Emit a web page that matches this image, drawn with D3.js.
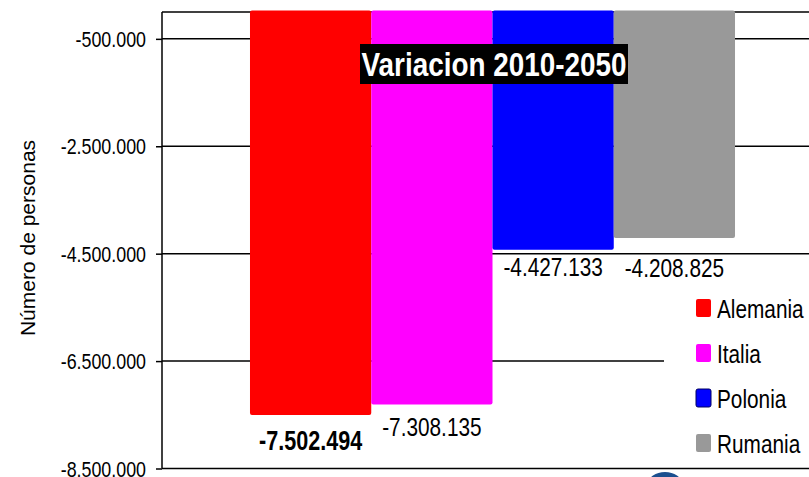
<!DOCTYPE html>
<html>
<head>
<meta charset="utf-8">
<script src="https://cdn.jsdelivr.net/npm/d3@7"></script>
<style>
  html, body { margin: 0; padding: 0; background: #fff; }
  svg { display: block; }
  text { font-family: "Liberation Sans", Arial, sans-serif; }
</style>
</head>
<body>
<svg id="chart" width="809" height="477"></svg>
<script>
// ---- data ----
const countries = ["Alemania", "Italia", "Polonia", "Rumania"];
const values = [-7502494, -7308135, -4427133, -4208825];
const colors = ["#ff0000", "#ff00ff", "#0000ff", "#999999"];
const tickValues = [-500000, -2500000, -4500000, -6500000, -8500000];
const groupName = ["2010-2050"];
const titleText = "Variacion 2010-2050";
const yTitle = "Número de personas";

// ---- layout ----
const plot = { left: 162, right: 823, top: 12, bottom: 468.5 };
const svg = d3.select("#chart");

const loc = d3.formatLocale({ decimal: ",", thousands: ".", grouping: [3], currency: ["", ""], minus: "-" });
const fmt = loc.format(",");

const y = d3.scaleLinear().domain([0, -8500000]).range([plot.top, plot.bottom]);
const xg = d3.scaleBand().domain(groupName).range([plot.left, plot.right]).paddingInner(0).paddingOuter(0.1814);
const xs = d3.scaleBand().domain(countries).range([0, xg.bandwidth()]).padding(0);

// gridlines
svg.append("g").selectAll("line").data(tickValues).join("line")
  .attr("x1", plot.left).attr("x2", plot.right)
  .attr("y1", d => y(d)).attr("y2", d => y(d))
  .attr("stroke", "#000").attr("stroke-width", 1.5);
// top border line
svg.append("line").attr("x1", plot.left).attr("x2", plot.right)
  .attr("y1", y(0)).attr("y2", y(0)).attr("stroke", "#000").attr("stroke-width", 1.5);

// bars
const bars = svg.append("g").attr("transform", `translate(${xg(groupName[0])},0)`);
bars.selectAll("rect").data(countries).join("rect")
  .attr("x", d => xs(d))
  .attr("y", y(0) - 1.5)
  .attr("width", xs.bandwidth())
  .attr("height", (d, i) => y(values[i]) - y(0) + 1.5)
  .attr("rx", 2)
  .attr("fill", (d, i) => colors[i]);

// value labels
const labelDy = [35, 32, 26, 38.5];
const labelSize = [27, 26, 26, 26];
bars.selectAll("g.lbl").data(countries).join("g").attr("class", "lbl")
  .attr("transform", (d, i) => `translate(${xs(d) + xs.bandwidth() / 2},${y(values[i]) + labelDy[i]}) scale(0.8,1)`)
  .append("text")
  .attr("text-anchor", "middle")
  .attr("font-size", (d, i) => labelSize[i])
  .attr("font-weight", (d, i) => i === 0 ? "bold" : "normal")
  .attr("fill", "#000")
  .text((d, i) => fmt(values[i]));

// title box
const tg = svg.append("g");
tg.append("rect").attr("x", 360).attr("y", 44).attr("width", 268).attr("height", 40).attr("fill", "#000");
tg.append("g").attr("transform", "translate(494,76) scale(0.845,1)")
  .append("text").attr("text-anchor", "middle").attr("font-size", 33).attr("font-weight", "bold")
  .attr("fill", "#fff").text(titleText);

// legend
const lg = svg.append("g");
lg.append("rect").attr("x", 664).attr("y", 280).attr("width", 160).attr("height", 184).attr("fill", "#fff");
const items = lg.selectAll("g.item").data(countries).join("g").attr("class", "item")
  .attr("transform", (d, i) => `translate(696,${308 + i * 45})`);
items.append("rect").attr("x", 0).attr("y", -9).attr("width", 15).attr("height", 18).attr("rx", 2)
  .attr("fill", (d, i) => colors[i])
  .attr("stroke", (d, i) => i === 2 ? "#000060" : "none").attr("stroke-width", 1);
items.append("g").attr("transform", "translate(21,10) scale(0.8,1)")
  .append("text").attr("font-size", 26).attr("fill", "#000").text(d => d);

// y axis
const yAxis = d3.axisLeft(y).tickValues(tickValues).tickSizeInner(6).tickSizeOuter(0).tickFormat(fmt);
const ag = svg.append("g").attr("transform", `translate(${plot.left},0)`).call(yAxis);
ag.select(".domain").attr("stroke", "#000").attr("stroke-width", 1.5)
  .attr("d", `M0,${y(0)}V${plot.bottom}`);
ag.selectAll(".tick line").attr("stroke", "#000").attr("stroke-width", 1.5);
ag.selectAll(".tick text")
  .attr("x", 0).attr("dy", "0.35em")
  .attr("transform", "translate(-16,0) scale(0.83,1)")
  .attr("font-size", 21.5).attr("font-family", "Liberation Sans, Arial, sans-serif")
  .attr("fill", "#000");

// y title
svg.append("text").attr("transform", "translate(35,238) rotate(-90)")
  .attr("text-anchor", "middle").attr("font-size", 21).attr("fill", "#000").text(yTitle);

// partial logo at bottom edge
svg.append("ellipse").attr("cx", 665).attr("cy", 484).attr("rx", 17).attr("ry", 12).attr("fill", "#1b4f8f");
</script>
</body>
</html>
